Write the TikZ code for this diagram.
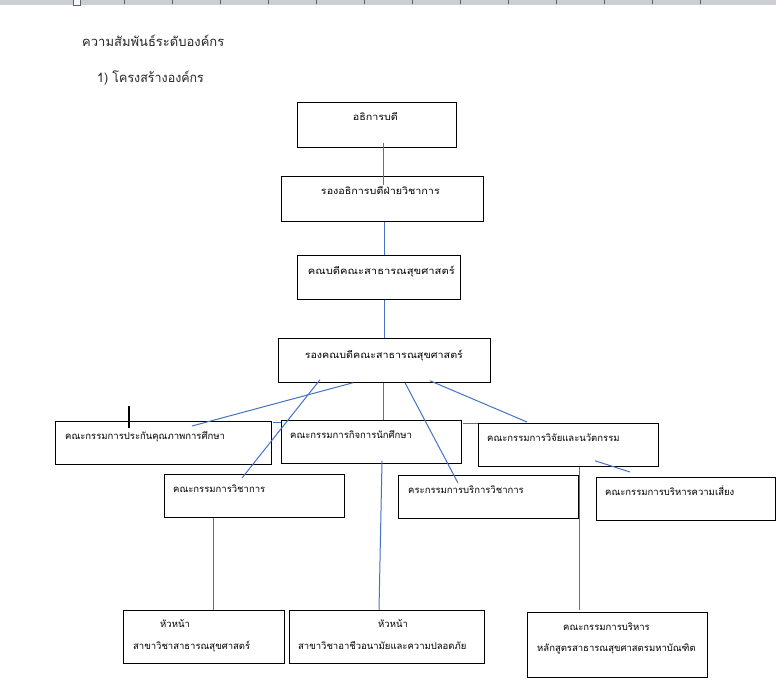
\documentclass[tikz,border=0pt]{standalone}
\usepackage{fontspec}
\newfontfamily\thaifont[Script=Thai]{Loma}
\definecolor{linkblue}{HTML}{4472C4}
\definecolor{rulergray}{HTML}{CBCED2}
\definecolor{tickgray}{HTML}{5E6166}
\newcommand{\spread}[1]{\scalebox{1.13}[1]{#1}}

\begin{document}
\begin{tikzpicture}[x=1pt,y=-1pt,
	box/.style={draw=black, line width=0.75pt, anchor=north west, inner sep=0pt},
	txt/.style={font=\thaifont\fontsize{9.5}{11}\selectfont, inner sep=0pt},
	head/.style={font=\thaifont\fontsize{13}{15}\selectfont, inner sep=0pt, anchor=base west, text=black!85},
	link/.style={linkblue, line width=1pt}]

	% page and ruler
	\fill[white] (0,0) rectangle (776,680);
	\useasboundingbox (0,0) rectangle (776,680);
	\fill[rulergray] (0,0) rectangle (776,5);
	\foreach \t in {0,...,12}
		\draw[tickgray, line width=0.6pt] (124.3+48*\t,0) -- (124.3+48*\t,4);
	\draw[tickgray, fill=white!85!rulergray, line width=0.5pt] (73,-1) rectangle (80.5,5);

	\node[head] (title) at (82,46) {ความสัมพันธ์ระดับองค์กร};
	\node[head] (subtitle) at (97,82) {\scalebox{0.96}[1]{1) โครงสร้างองค์กร}};

	% boxes
	\node[box, minimum width=159pt, minimum height=45pt] (rector) at (297,102) {};
	\node[box, minimum width=202pt, minimum height=45pt] (vpacad) at (281,176) {};
	\node[box, minimum width=163pt, minimum height=44pt] (dean) at (297,255) {};
	\node[box, minimum width=212pt, minimum height=44pt] (vdean) at (278,338) {};

	\node[box, minimum width=216pt, minimum height=43pt] (qa) at (55,421) {};
	\node[box, minimum width=180pt, minimum height=43pt] (stud) at (281,420) {};
	\node[box, minimum width=180pt, minimum height=43pt] (res) at (478,423) {};
	\node[box, minimum width=180pt, minimum height=43pt] (acad) at (164,474) {};
	\node[box, minimum width=180pt, minimum height=43pt] (serv) at (398,475) {};
	\node[box, minimum width=179pt, minimum height=43pt] (risk) at (596,477) {};

	\node[box, minimum width=161pt, minimum height=53pt] (headph) at (123,610) {};
	\node[box, minimum width=195pt, minimum height=53pt] (headohs) at (289,610) {};
	\node[box, minimum width=180pt, minimum height=65pt] (mph) at (527,612) {};

	% texts
	\node[txt, anchor=base] (rectortxt) at ([shift={(-1.5,18)}]rector.north) {\spread{อธิการบดี}};
	\node[txt, anchor=base] (vpacadtxt) at ([shift={(-2,18)}]vpacad.north) {\spread{รองอธิการบดีฝ่ายวิชาการ}};
	\node[txt, anchor=base] (deantxt) at ([shift={(2.5,19)}]dean.north) {\scalebox{1.18}[1]{คณบดีคณะสาธารณสุขศาสตร์}};
	\node[txt, anchor=base] (vdeantxt) at ([shift={(-0.5,20)}]vdean.north) {\spread{รองคณบดีคณะสาธารณสุขศาสตร์}};

	\node[txt, anchor=base west] (qatxt) at ([shift={(10,18)}]qa.north west) {คณะกรรมการประกันคุณภาพการศึกษา};
	\node[txt, anchor=base west] (studtxt) at ([shift={(9,18)}]stud.north west) {คณะกรรมการกิจการนักศึกษา};
	\node[txt, anchor=base west] (restxt) at ([shift={(9,18)}]res.north west) {คณะกรรมการวิจัยและนวัตกรรม};
	\node[txt, anchor=base west] (acadtxt) at ([shift={(9,18)}]acad.north west) {คณะกรรมการวิชาการ};
	\node[txt, anchor=base west] (servtxt) at ([shift={(10,18)}]serv.north west) {คระกรรมการบริการวิชาการ};
	\node[txt, anchor=base west] (risktxt) at ([shift={(9,18)}]risk.north west) {คณะกรรมการบริหารความเสี่ยง};

	\node[txt, anchor=base west] (headphtop) at ([shift={(37,17)}]headph.north west) {หัวหน้า};
	\node[txt, anchor=base west] (headphbot) at ([shift={(10,39)}]headph.north west) {สาขาวิชาสาธารณสุขศาสตร์};
	\node[txt, anchor=base west] (headohstop) at ([shift={(89,17)}]headohs.north west) {หัวหน้า};
	\node[txt, anchor=base west] (headohsbot) at ([shift={(9,39)}]headohs.north west) {สาขาวิชาอาชีวอนามัยและความปลอดภัย};
	\node[txt, anchor=base west] (mphtop) at ([shift={(36,18)}]mph.north west) {คณะกรรมการบริหาร};
	\node[txt, anchor=base west] (mphbot) at ([shift={(10,39)}]mph.north west) {หลักสูตรสาธารณสุขศาสตรมหาบัณฑิต};

	% connectors
	\draw[link] ([shift={(7,-5)}]rector.south) -- ([shift={(1.5,9)}]vpacad.north);
	\draw[link] ([xshift=2.5pt]vpacad.south) -- ([xshift=6pt]dean.north);
	\draw[link] ([xshift=6pt]dean.south) -- ([xshift=0.5pt]vdean.north);
	\draw[link] ([xshift=-0.5pt]vdean.south) -- ([xshift=12.5pt]stud.north);
	\draw[link] ([shift={(75,0)}]vdean.south west) -- ([shift={(137,5)}]qa.north west);
	\draw[link] ([shift={(42,-3)}]vdean.south west) -- ([shift={(78,4)}]acad.north west);
	\draw[link] ([shift={(127,0)}]vdean.south west) -- ([shift={(60,8)}]serv.north west);
	\draw[link] ([shift={(152,-2)}]vdean.south west) -- ([shift={(49,-1)}]res.north west);
	\draw[link] ([shift={(1,1)}]qa.north east) -- ([shift={(0,2)}]stud.north west);
	\draw[link] ([shift={(1,3)}]stud.north east) -- (res.north west);
	\draw[link] ([shift={(101,-3)}]stud.south west) -- ([shift={(90,0)}]headohs.north west);
	\draw[link] ([shift={(49.5,0)}]acad.south west) -- ([shift={(90.5,0)}]headph.north west);
	\draw[link] ([shift={(101.5,0)}]res.south west) -- ([shift={(52.5,-2)}]mph.north west);
	\draw[link] ([shift={(117,-6)}]res.south west) -- ([shift={(34,-5)}]risk.north west);

	% text cursor
	\draw[line width=1.7pt] (129,406) -- (129,428);
\end{tikzpicture}
\end{document}
